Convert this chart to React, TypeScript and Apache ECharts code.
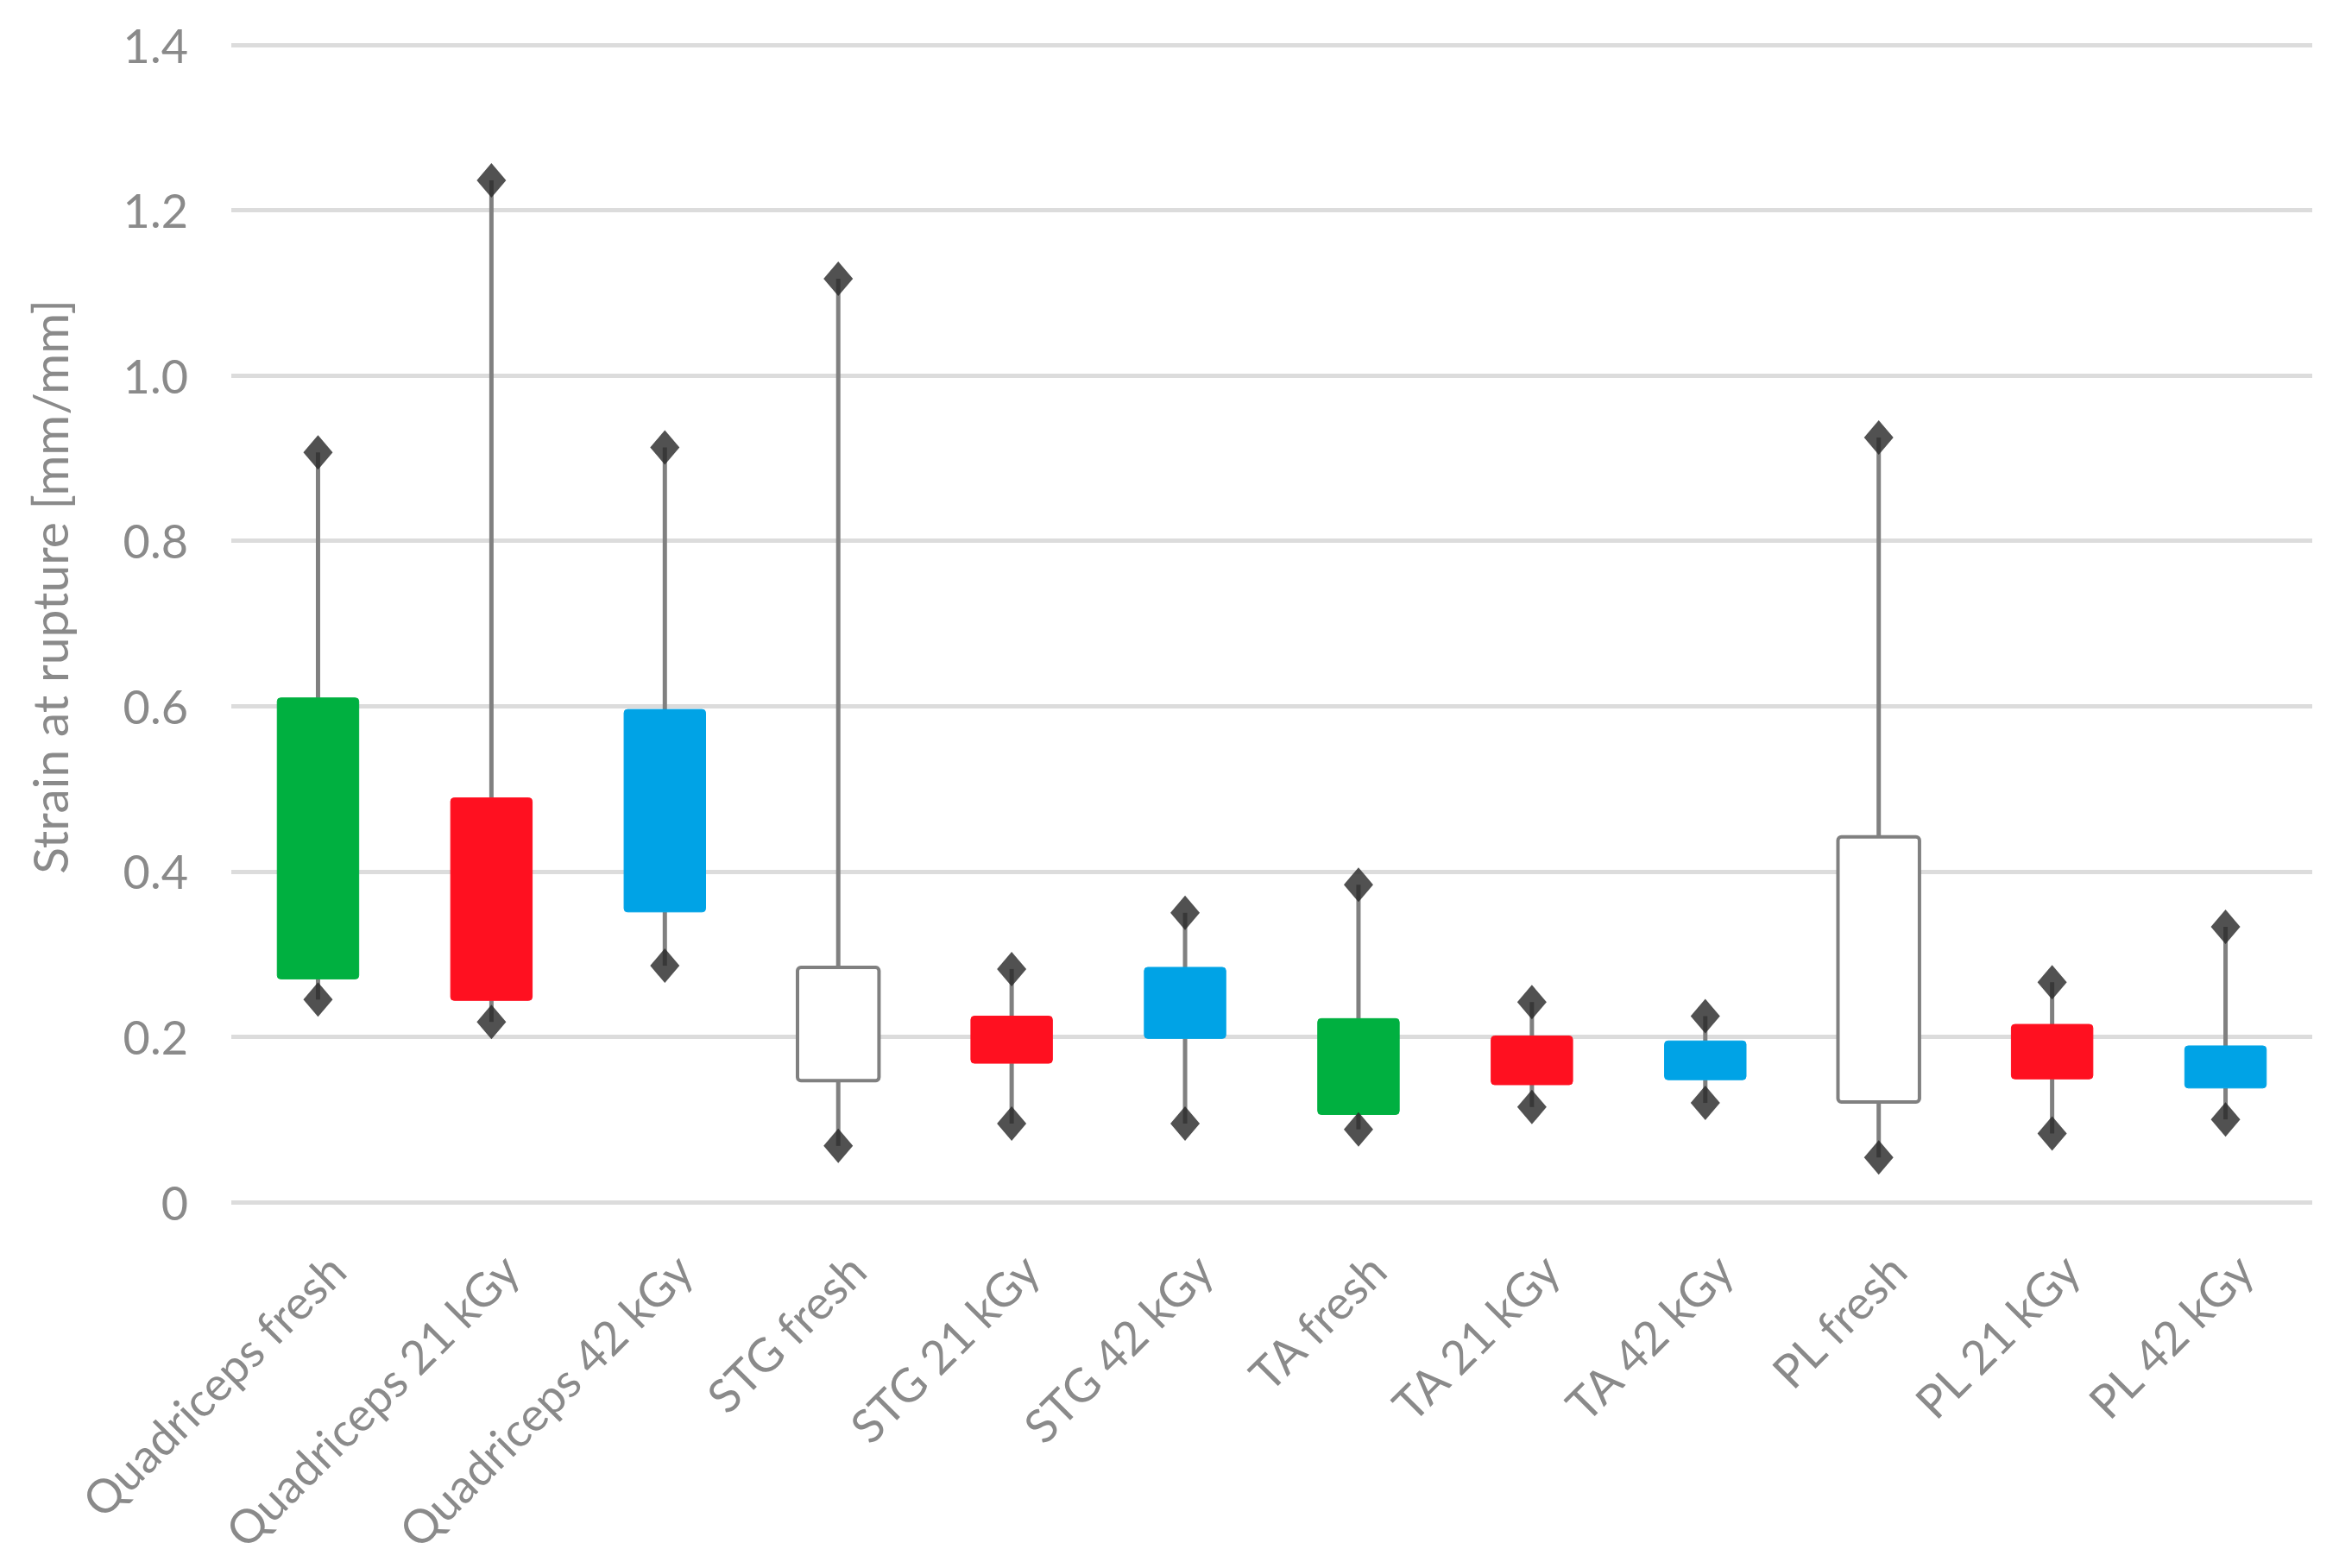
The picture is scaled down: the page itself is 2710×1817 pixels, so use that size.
import React, { useEffect, useRef } from "react";
import * as echarts from "echarts";

const categories = [
  "Quadriceps fresh",
  "Quadriceps 21 kGy",
  "Quadriceps 42 kGy",
  "STG fresh",
  "STG 21 kGy",
  "STG 42 kGy",
  "TA fresh",
  "TA 21 kGy",
  "TA 42 kGy",
  "PL fresh",
  "PL 21 kGy",
  "PL 42 kGy",
];
const minValues = [0.245, 0.218, 0.286, 0.068, 0.095, 0.095, 0.088, 0.115, 0.12, 0.054, 0.083, 0.1];
const q1Values = [0.27, 0.244, 0.351, 0.147, 0.168, 0.198, 0.106, 0.142, 0.148, 0.121, 0.149, 0.138];
const q3Values = [0.61, 0.489, 0.596, 0.284, 0.225, 0.284, 0.222, 0.201, 0.195, 0.442, 0.215, 0.189];
const maxValues = [0.907, 1.236, 0.913, 1.117, 0.282, 0.35, 0.384, 0.242, 0.225, 0.925, 0.266, 0.333];
const groupKinds = ["fresh", "21", "42", "none", "21", "42", "fresh", "21", "42", "none", "21", "42"];
const yTicks = [0, 0.2, 0.4, 0.6, 0.8, 1.0, 1.2, 1.4];

const kindColors: Record<string, string> = {
  fresh: "#00B040",
  "21": "#FF1020",
  "42": "#00A3E6",
  none: "#FFFFFF",
};

const FONT = "Lato, 'Open Sans', sans-serif";
const GRAY = "#8a8a8a";

export default function App() {
  const ref = useRef<HTMLDivElement>(null);
  useEffect(() => {
    document.body.style.margin = "0";
    if (!ref.current) return;
    const chart = echarts.init(ref.current, null, { renderer: "svg" });
    const boxData = categories.map((_, i) => [i, minValues[i], q1Values[i], q3Values[i], maxValues[i]]);
    const diamondData: number[][] = [];
    categories.forEach((_, i) => {
      diamondData.push([i, maxValues[i]]);
      diamondData.push([i, minValues[i]]);
    });
    chart.setOption({
      animation: false,
      backgroundColor: "#ffffff",
      grid: { left: 268, right: 31, top: 52, bottom: 424, containLabel: false },
      xAxis: {
        type: "category",
        data: categories,
        boundaryGap: true,
        axisLine: { show: false },
        axisTick: { show: false },
        splitLine: { show: false },
        axisLabel: {
          rotate: 45,
          interval: 0,
          margin: 35,
          color: GRAY,
          fontFamily: FONT,
          fontSize: 54,
          verticalAlign: "top",
          padding: [12, 9, 0, 0],
        },
      },
      yAxis: {
        type: "value",
        min: 0,
        max: 1.4,
        interval: 0.2,
        axisLine: { show: false },
        axisTick: { show: false },
        splitLine: { show: true, lineStyle: { color: "#dcdcdc", width: 5 } },
        axisLabel: {
          margin: 50,
          color: GRAY,
          fontFamily: FONT,
          fontSize: 54,
          formatter: (v: number) => {
            const t = yTicks.find((k) => Math.abs(k - v) < 1e-9);
            const val = t === undefined ? v : t;
            return val === 0 ? "0" : val.toFixed(1);
          },
        },
      },
      graphic: [
        {
          type: "text",
          x: 57,
          y: 680,
          rotation: Math.PI / 2,
          style: {
            text: "Strain at rupture [mm/mm]",
            fill: GRAY,
            font: `57px ${FONT}`,
            textAlign: "center",
            textVerticalAlign: "middle",
          },
        },
      ],
      series: [
        {
          type: "custom",
          data: boxData,
          encode: { x: 0, y: [1, 2, 3, 4] },
          z: 2,
          renderItem: (params: any, api: any) => {
            const x = api.value(0);
            const pMin = api.coord([x, api.value(1)]);
            const pQ1 = api.coord([x, api.value(2)]);
            const pQ3 = api.coord([x, api.value(3)]);
            const pMax = api.coord([x, api.value(4)]);
            const bw = api.size([1, 0])[0] * 0.47;
            const kind = groupKinds[params.dataIndex];
            const fill = kindColors[kind];
            const isWhite = kind === "none";
            const lineStyle = { stroke: "#808080", lineWidth: 5 };
            return {
              type: "group",
              children: [
                { type: "line", shape: { x1: pMax[0], y1: pMax[1], x2: pQ3[0], y2: pQ3[1] }, style: lineStyle },
                { type: "line", shape: { x1: pQ1[0], y1: pQ1[1], x2: pMin[0], y2: pMin[1] }, style: lineStyle },
                {
                  type: "rect",
                  shape: { x: pQ3[0] - bw / 2, y: pQ3[1], width: bw, height: pQ1[1] - pQ3[1], r: 4 },
                  style: {
                    fill,
                    stroke: isWhite ? "#808080" : fill,
                    lineWidth: isWhite ? 4 : 1,
                  },
                },
              ],
            };
          },
        },
        {
          type: "scatter",
          data: diamondData,
          symbol: "diamond",
          symbolSize: [34, 40],
          z: 3,
          itemStyle: { color: "#262626" },
        },
      ],
    });
    return () => chart.dispose();
  }, []);
  return <div ref={ref} style={{ width: 2710, height: 1817 }} />;
}
